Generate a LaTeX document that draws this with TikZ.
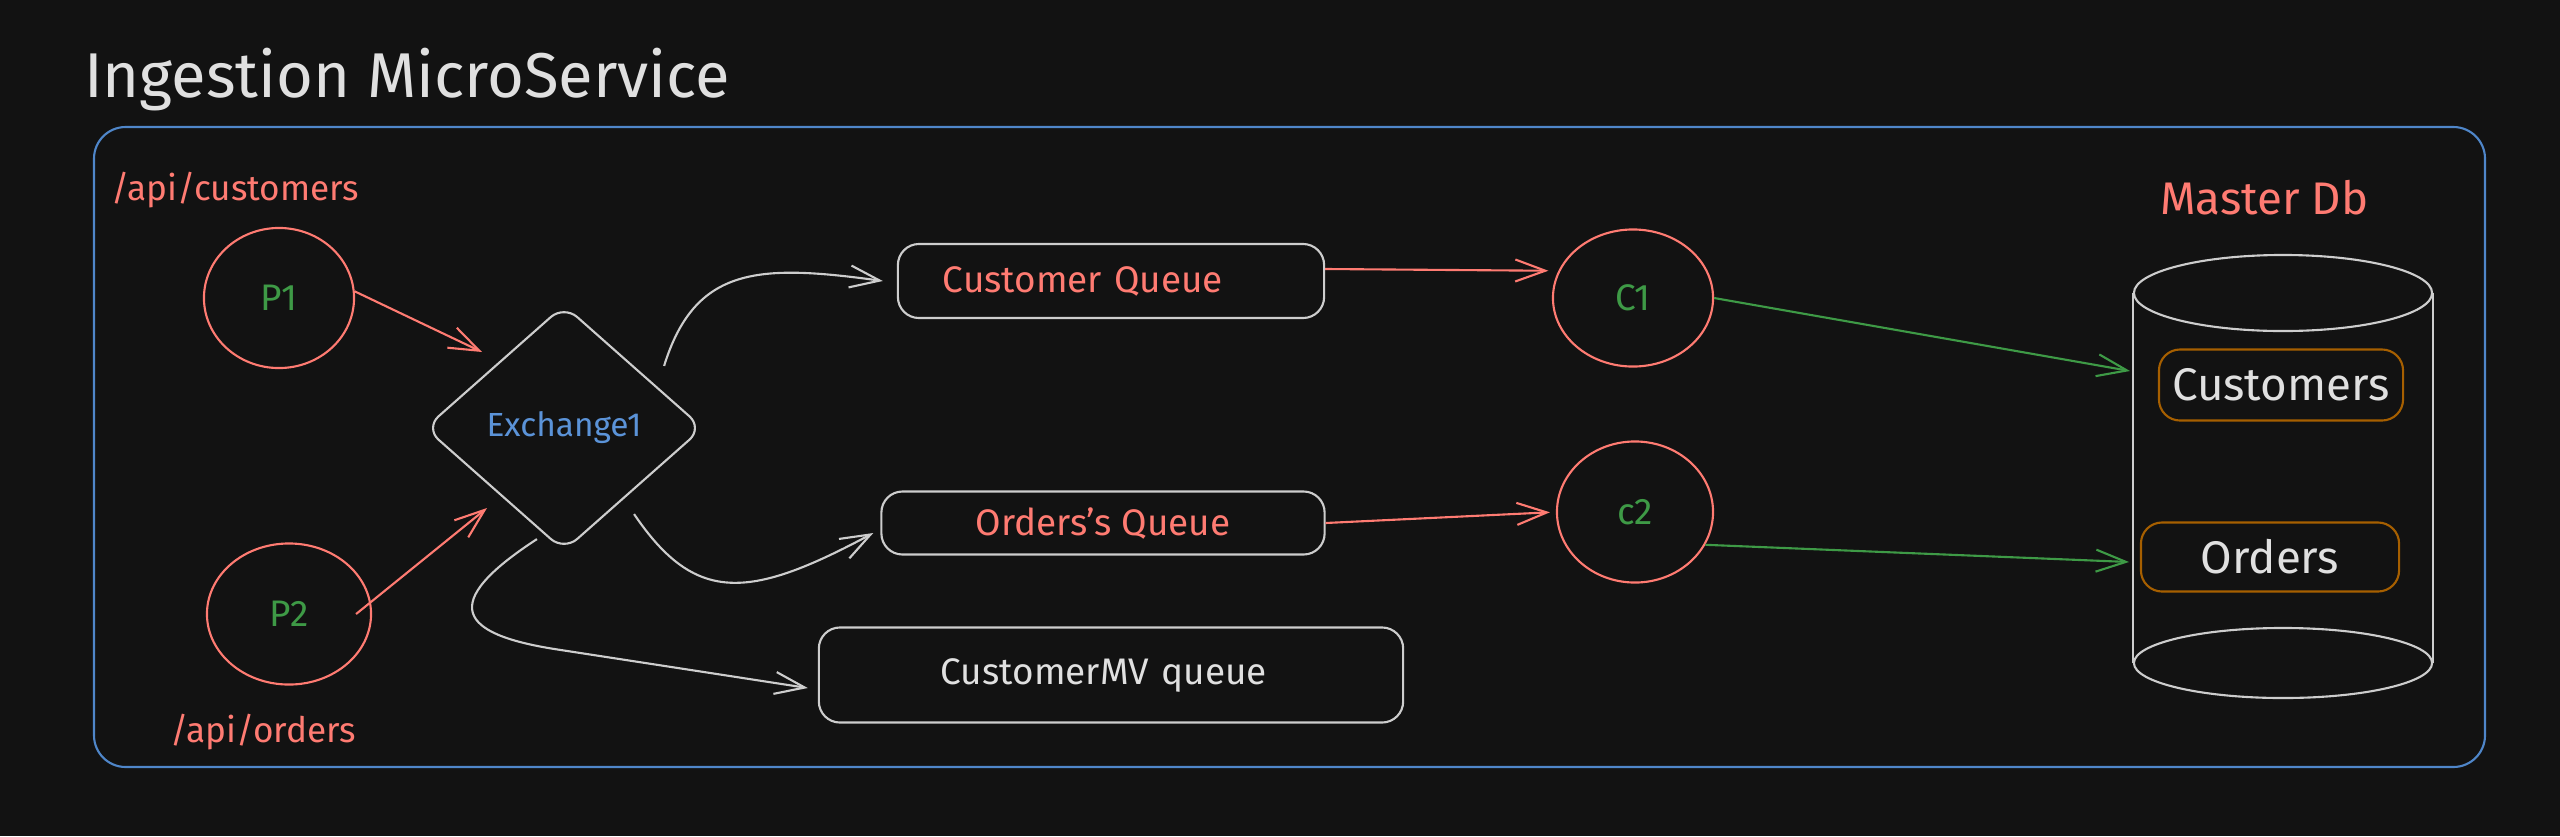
\documentclass[tikz,border=0pt]{standalone}
\usepackage{fontspec}
\setmainfont{Fira Sans}
\usepackage{tikz}
\usetikzlibrary{shapes.geometric, arrows.meta}

\definecolor{bgc}{HTML}{121212}
\definecolor{linegray}{HTML}{CDCDCD}
\definecolor{textgray}{HTML}{E0E0E0}
\definecolor{salmon}{HTML}{FF7B72}
\definecolor{leaf}{HTML}{3E9A46}
\definecolor{skyblue}{HTML}{5B93D8}
\definecolor{frameblue}{HTML}{4F86C9}
\definecolor{amber}{HTML}{A65F00}

\begin{document}
\begin{tikzpicture}[x=0.01cm, y=-0.01cm, line width=0.6pt,
    arr/.style={-{Straight Barb[length=3mm, width=2.2mm]}},
    proc/.style={ellipse, draw=salmon, text=leaf, inner sep=0pt, font=\fontsize{10.5}{12}\selectfont},
    queue/.style={draw=linegray, rounded corners=6pt, inner sep=0pt, font=\fontsize{10.5}{12}\selectfont},
    tbl/.style={draw=amber, rounded corners=6pt, inner sep=0pt, text=textgray, font=\fontsize{13}{15}\selectfont},
    api/.style={anchor=base west, inner sep=0pt, text=salmon, font=\fontsize{10}{12}\selectfont}]
    \useasboundingbox (0,0) rectangle (2560,836);
    \fill[bgc] (0,0) rectangle (2560,836);

    % Rahmen.
    \node[anchor=base west, inner sep=0pt, text=textgray, font=\fontsize{18}{21}\selectfont] (title) at (83,97) {Ingestion MicroService};
    \draw[frameblue, rounded corners=9pt] (94,127) rectangle (2485,767);

    % Produzenten.
    \node[api] (apicust) at (110,200) {/api/customers};
    \node[api] (apiord) at (169,742) {/api/orders};
    \node[proc, minimum width=1.5cm, minimum height=1.4cm] (p1) at (279,298) {P1};
    \node[proc, minimum width=1.64cm, minimum height=1.41cm] (p2) at (289,614) {P2};
    \node[diamond, draw=linegray, rounded corners=5pt, aspect=1.13, minimum width=2.78cm, minimum height=2.46cm,
        inner sep=0pt, text=skyblue, font=\fontsize{9.5}{11}\selectfont] (ex) at (564,428) {Exchange1};
    \coordinate (exin1) at (482,352);
    \coordinate (exin2) at (487,508);

    % Queues.
    \node[queue, text=salmon, minimum width=4.26cm, minimum height=0.74cm, inner xsep=0.45cm, text width=3.36cm, align=left] (cq) at (1111,281) {Customer Queue};
    \node[queue, text=salmon, minimum width=4.43cm, minimum height=0.63cm] (ob) at (1103,523) {Orders's Queue};
    \node[queue, text=textgray, minimum width=5.84cm, minimum height=0.95cm, inner xsep=1.22cm, text width=3.4cm, align=left] (mvb) at (1111,675) {CustomerMV queue};

    % Consumer.
    \node[proc, minimum width=1.6cm, minimum height=1.37cm] (c1) at (1633,298) {C1};
    \node[proc, minimum width=1.56cm, minimum height=1.41cm] (c2) at (1635,512) {c2};

    % Datenbank.
    \node[api, font=\fontsize{13}{15}\selectfont] (mdb) at (2159,214) {Master Db};
    \node[ellipse, draw=linegray, minimum width=2.98cm, minimum height=0.76cm, inner sep=0pt] (dbtop) at (2283,293) {};
    \node[ellipse, draw=linegray, minimum width=2.98cm, minimum height=0.7cm, inner sep=0pt] (dbbot) at (2283,663) {};
    \draw[linegray] (dbtop.west) -- (dbbot.west) (dbtop.east) -- (dbbot.east);
    \node[tbl, minimum width=2.44cm, minimum height=0.71cm] (cust) at (2281,385) {Customers};
    \node[tbl, minimum width=2.58cm, minimum height=0.69cm] (ord) at (2270,557) {Orders};
    \coordinate (custin) at (2130,371);
    \coordinate (ordin) at (2129,562);

    % Pfeile.
    \draw[arr, salmon] (p1.5) -- (exin1);
    \draw[arr, salmon] ([xshift=-0.16cm]p2.east) -- (exin2);
    \draw[arr, linegray] ([xshift=0.3cm]ex.north east) .. controls +(31,-100) and +(-124,-17) .. ([xshift=-0.14cm]cq.west);
    \draw[arr, linegray] ([yshift=-0.24cm]ex.south east) .. controls +(61,90) and +(-125,67) .. ([xshift=-0.07cm, yshift=-0.1cm]ob.west);
    \draw[arr, linegray] ([shift={(0.43cm,-0.49cm)}]ex.south west) .. controls +(-100,65) and +(-95,-15) .. +(18,110)
        -- ([xshift=-0.1cm, yshift=-0.13cm]mvb.west);
    \draw[arr, salmon, shorten >=0.1cm] ([yshift=0.12cm]cq.east) -- (c1.160);
    \draw[arr, salmon, shorten >=0.06cm] (ob.east) -- (c2.west);
    \draw[arr, leaf] (c1.east) -- (custin);
    \draw[arr, leaf] (c2.-25) -- (ordin);
\end{tikzpicture}
\end{document}
